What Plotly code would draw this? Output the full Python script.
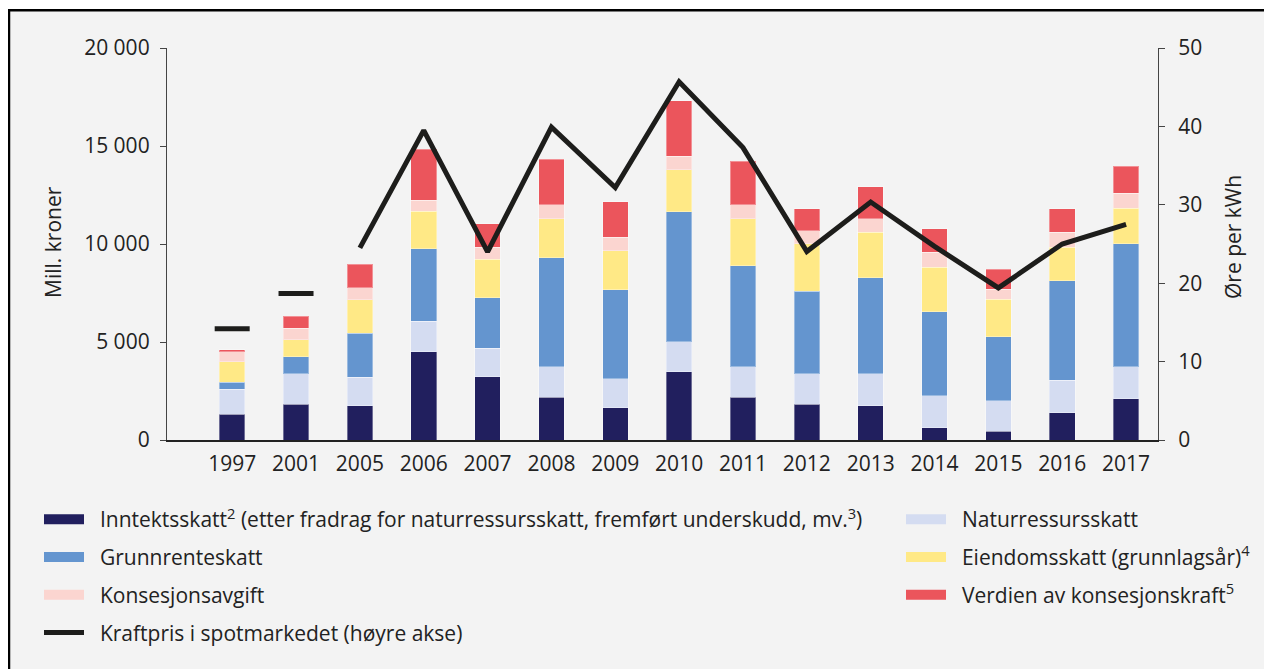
import plotly.graph_objects as go

years = ["1997", "2001", "2005", "2006", "2007", "2008", "2009", "2010",
         "2011", "2012", "2013", "2014", "2015", "2016", "2017"]

inntektsskatt = [1310, 1820, 1750, 4510, 3217, 2180, 1650, 3470, 2180, 1820, 1750, 630, 443, 1395, 2095]
naturressursskatt = [1290, 1566, 1464, 1549, 1464, 1548, 1464, 1549, 1548, 1566, 1634, 1634, 1565, 1651, 1634]
grunnrenteskatt = [340, 868, 2229, 3693, 2587, 5583, 4561, 6621, 5157, 4204, 4902, 4289, 3268, 5072, 6281]
eiendomsskatt = [1040, 851, 1719, 1907, 1957, 1974, 1991, 2161, 2400, 2417, 2314, 2263, 1906, 1719, 1804]
konsesjonsavgift = [530, 596, 596, 578, 613, 715, 681, 681, 715, 681, 698, 766, 511, 765, 766]
konsesjonskraft = [85, 612, 1209, 2587, 1208, 2315, 1804, 2825, 2230, 1123, 1634, 1192, 1021, 1209, 1395]
kraftpris = [14.2, 18.7, 24.5, 39.5, 24.0, 39.9, 32.2, 45.7, 37.3, 24.05, 30.35, 24.7, 19.4, 25.0, 27.5]

left_ticks = [0, 5000, 10000, 15000, 20000]
left_ticktext = ["0", "5 000", "10 000", "15 000", "20 000"]
right_ticks = [0, 10, 20, 30, 40, 50]

PAD = "\u00a0\u00a0"
series = [
    ("Inntektsskatt<sup>2</sup> (etter fradrag for naturressursskatt, fremført underskudd, mv.<sup>3</sup>)", inntektsskatt, "#211f5e", "legend"),
    ("Naturressursskatt", naturressursskatt, "#d4dcf1", "legend2"),
    ("Grunnrenteskatt", grunnrenteskatt, "#6495cf", "legend"),
    ("Eiendomsskatt (grunnlagsår)<sup>4</sup>", eiendomsskatt, "#ffe986", "legend2"),
    ("Konsesjonsavgift", konsesjonsavgift, "#fbd5d0", "legend"),
    ("Verdien av konsesjonskraft<sup>5</sup>", konsesjonskraft, "#eb555c", "legend2"),
]

FONT = "Open Sans"
FS = 21
TXT = "#222222"

fig = go.Figure()
for i, (name, vals, color, leg) in enumerate(series):
    fig.add_trace(go.Bar(
        x=years, y=vals, name=name,
        marker=dict(color=color, line=dict(color="rgba(255,255,255,0.35)", width=1)),
        showlegend=False, yaxis="y",
    ))
# legend swatches
for i, (name, vals, color, leg) in enumerate(series):
    fig.add_trace(go.Scatter(
        x=[None], y=[None], mode="lines", name=PAD + name, legend=leg, legendgroup="g%d" % i,
        line=dict(color=color, width=12), hoverinfo="skip",
    ))

fig.add_trace(go.Scatter(
    x=years[2:], y=kraftpris[2:], mode="lines", yaxis="y2",
    line=dict(color="#1d1d1b", width=5), name=PAD + "Kraftpris i spotmarkedet (høyre akse)",
    legend="legend", legendgroup="gk",
))
fig.add_trace(go.Scatter(
    x=years[:2], y=kraftpris[:2], mode="markers", yaxis="y2", showlegend=False,
    marker=dict(symbol="line-ew", size=25, line=dict(color="#1d1d1b", width=5)),
))

# page has an 8px body margin: figure coords = page coords - 8
W, H = 1264, 661
L, R, T, B = 159, 114, 40, 229
pw, ph = W - L - R, H - T - B

def px2paper_x(px):
    return (px - L) / pw

def px2paper_y(py):
    return (H - B - py) / ph

# panel background and its visible left/top frame
fig.add_shape(type="rect", xref="paper", yref="paper",
              x0=px2paper_x(0), x1=px2paper_x(W), y0=px2paper_y(H), y1=px2paper_y(2.3),
              line=dict(width=0), fillcolor="#f3f3f3", layer="below")
fig.add_shape(type="line", xref="paper", yref="paper",
              x0=px2paper_x(0), x1=px2paper_x(W), y0=px2paper_y(2.3), y1=px2paper_y(2.3),
              line=dict(color="#000000", width=2.5), layer="below")
fig.add_shape(type="line", xref="paper", yref="paper",
              x0=px2paper_x(1.0), x1=px2paper_x(1.0), y0=px2paper_y(H), y1=px2paper_y(1.05),
              line=dict(color="#000000", width=2.5), layer="below")

fig.add_annotation(text="Mill. kroner", textangle=-90, showarrow=False,
                   xref="paper", yref="paper", x=px2paper_x(45), y=px2paper_y(234),
                   xanchor="center", yanchor="middle",
                   font=dict(family=FONT, size=FS, color=TXT))
fig.add_annotation(text="Øre per kWh", textangle=-90, showarrow=False,
                   xref="paper", yref="paper", x=px2paper_x(1225), y=px2paper_y(229),
                   xanchor="center", yanchor="middle",
                   font=dict(family=FONT, size=FS, color=TXT))

legend_common = dict(
    orientation="v", traceorder="grouped", tracegroupgap=7.5,
    font=dict(family=FONT, size=FS, color=TXT), bgcolor="rgba(0,0,0,0)",
    xref="container", yref="container", xanchor="left", yanchor="top",
    itemwidth=40,
)

fig.update_layout(
    width=W, height=H,
    margin=dict(l=L, r=R, t=T, b=B, autoexpand=False),
    paper_bgcolor="#ffffff", plot_bgcolor="rgba(0,0,0,0)",
    barmode="stack", bargap=0.6,
    font=dict(family=FONT, size=FS, color=TXT),
    xaxis=dict(type="category", categoryorder="array", categoryarray=years,
               showline=True, linecolor="#222222", linewidth=1.5, ticks="",
               showgrid=False, zeroline=False, automargin=False, tickangle=0,
               ticklabelstandoff=4,
               tickfont=dict(family=FONT, size=FS, color=TXT)),
    yaxis=dict(range=[0, 20000], tickvals=left_ticks, ticktext=left_ticktext,
               showline=True, linecolor="#444444", linewidth=1.3, ticks="outside",
               ticklen=6, tickcolor="#444444", tickwidth=1.3, showgrid=False, zeroline=False,
               automargin=False, ticklabelstandoff=6,
               tickfont=dict(family=FONT, size=FS, color=TXT)),
    yaxis2=dict(range=[0, 50], tickvals=right_ticks, overlaying="y", side="right",
                showline=True, linecolor="#444444", linewidth=1.3, ticks="outside",
                ticklen=6, tickcolor="#444444", tickwidth=1.3, showgrid=False, zeroline=False,
                automargin=False, ticklabelstandoff=9,
                tickfont=dict(family=FONT, size=FS, color=TXT)),
    legend=dict(x=31 / W, y=1 - 491 / H, **legend_common),
    legend2=dict(x=893 / W, y=1 - 491 / H, **legend_common),
    showlegend=True,
)

fig.write_html("out.html")
